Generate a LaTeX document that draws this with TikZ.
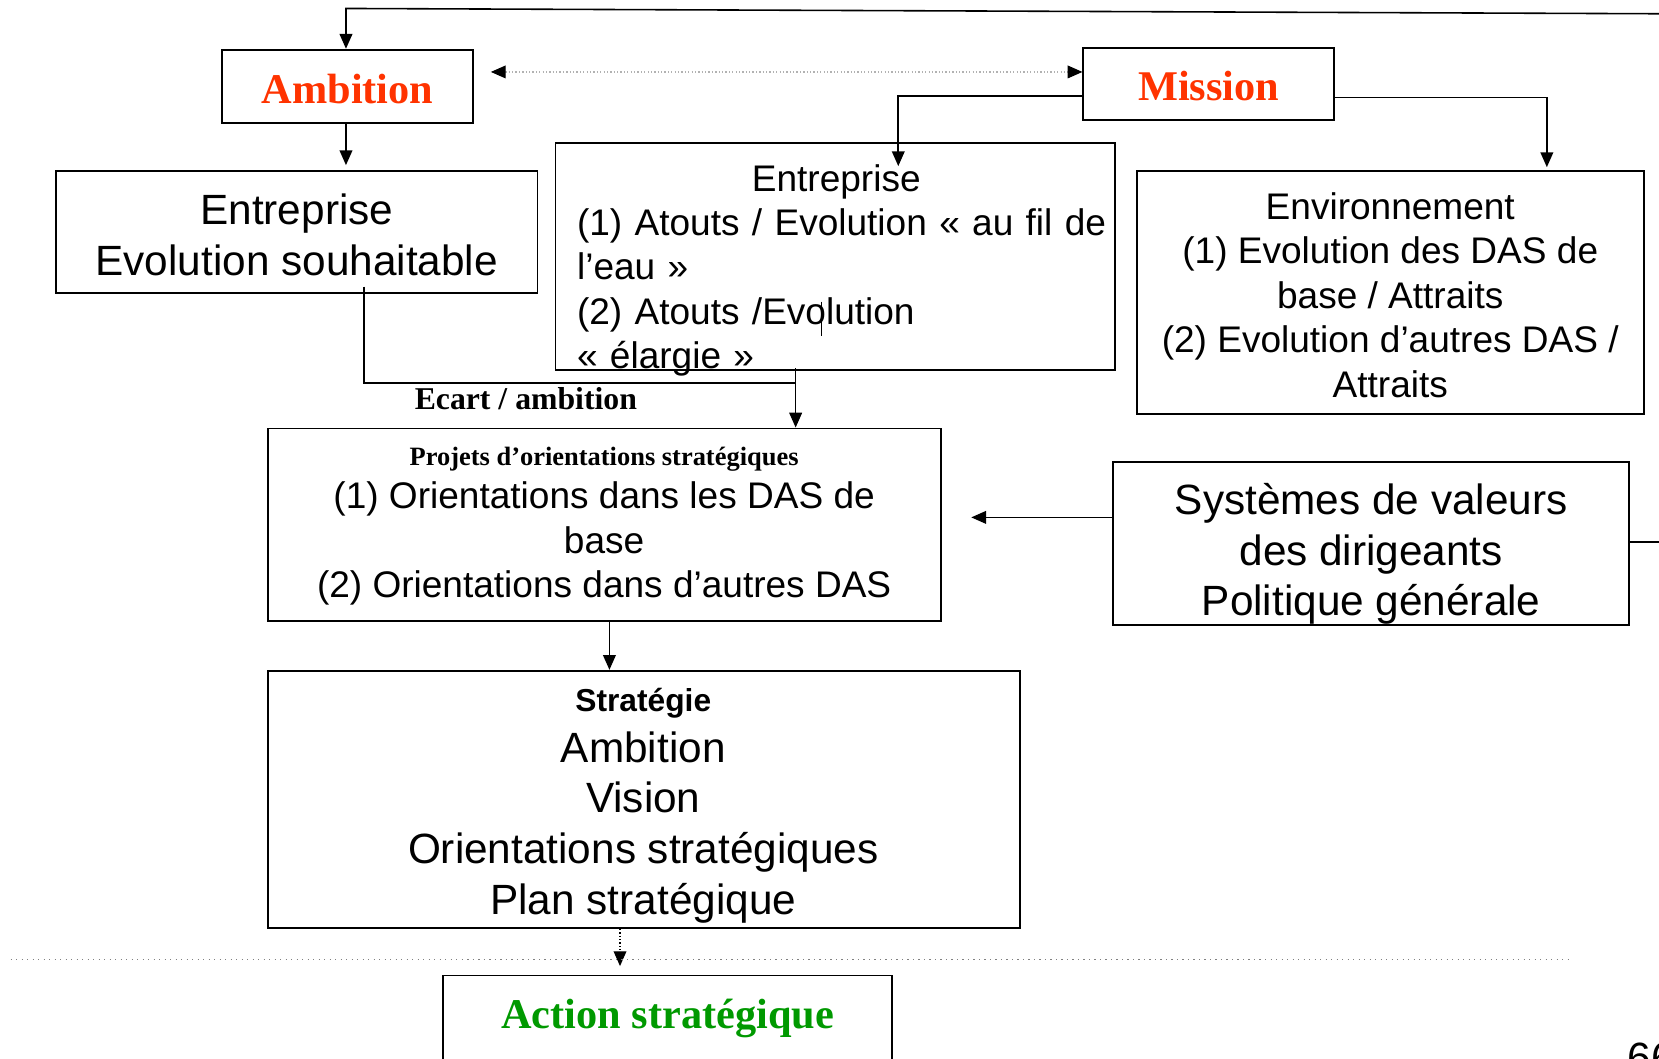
\documentclass[tikz,border=0pt]{standalone}
\usepackage{fontspec}
\setmainfont{Liberation Serif}
\setsansfont{Liberation Sans}
\usetikzlibrary{arrows.meta,calc}
\definecolor{titlered}{RGB}{255,51,0}
\definecolor{actgreen}{RGB}{0,153,0}
\begin{document}
\begin{tikzpicture}[x=0.5pt,y=-0.5pt,
  box/.style={draw,line width=0.9pt,inner sep=0pt},
  txt/.style={inner sep=0pt,align=center},
  sansbig/.style={font=\sffamily\fontsize{20}{24}\selectfont},
  sansmid/.style={font=\sffamily\fontsize{17.5}{21}\selectfont},
  headred/.style={font=\bfseries\fontsize{20}{24}\selectfont,text=titlered},
  arr/.style={-{Triangle[length=7pt,width=6pt]},line width=0.75pt},
  link/.style={line width=0.75pt}]
\useasboundingbox (0,0) rectangle (1568,1000);

% boxes
\node[box,minimum width=118.5pt,minimum height=34.5pt] (amb) at (328.5,81.5) {};
\node[box,minimum width=118.5pt,minimum height=34pt] (mis) at (1142.5,79) {};
\node[box,minimum width=227.5pt,minimum height=57.5pt] (ent1) at (280.5,219.5) {};
\node[box,minimum width=264.5pt,minimum height=107.5pt] (ent2) at (789.5,242.5) {};
\node[box,minimum width=239.5pt,minimum height=114.5pt] (env) at (1314.5,276.5) {};
\node[box,minimum width=318pt,minimum height=91pt] (proj) at (571,496) {};
\node[box,minimum width=244pt,minimum height=77pt] (sys) at (1296,514) {};
\node[box,minimum width=355.5pt,minimum height=121.5pt] (strat) at (608.5,755.5) {};
\node[box,minimum width=212pt,minimum height=59pt] (act) at (631,981) {};

% box texts
\node[txt,headred] (ambt) at (328.5,84) {Ambition};
\node[txt,headred] (mist) at (1142.5,81) {Mission};
\node[txt,sansbig] (ent1t) at (280.5,222) {Entreprise\\Evolution souhaitable};
\node[txt,sansmid,align=left,text width=252pt,anchor=west] (ent2t) at (545,255.5)
  {\makebox[245pt]{Entreprise}\\(1) Atouts / Evolution « au fil de\\l’eau »\\(2) Atouts /Evolution\\« élargie »};
\node[txt,sansmid] (envt) at (1314,279) {Environnement\\(1) Evolution des DAS de\\base / Attraits\\(2) Evolution d’autres DAS /\\Attraits};
\node[txt,font=\bfseries\fontsize{12.5}{15}\selectfont] (projh) at (571,434) {Projets d’orientations stratégiques};
\node[txt,sansmid] (projt) at (571,514) {(1) Orientations dans les DAS de\\base\\(2) Orientations dans d’autres DAS};
\node[txt,sansbig] (syst) at (1296,523.5) {Systèmes de valeurs\\des dirigeants\\Politique générale};
\node[txt,font=\sffamily\bfseries\fontsize{15}{18}\selectfont] (strath) at (608,665) {Stratégie};
\node[txt,sansbig] (stratt) at (608,782) {Ambition\\Vision\\Orientations stratégiques\\Plan stratégique};
\node[txt,font=\bfseries\fontsize{20}{24}\selectfont,text=actgreen] (actt) at (631,963) {Action stratégique};
\node[txt,font=\bfseries\fontsize{15}{18}\selectfont] (ecart) at (497,377) {Ecart / ambition};
\node[txt,sansbig,anchor=west] (page) at (1538,1000) {66};

% stray stroke inside the enterprise box
\draw[line width=0.5pt] (776,285) -- (776,318);

% free ends and entry points
\coordinate (tr) at (1568,13);
\coordinate (tl) at (327,8);
\coordinate (sysr) at (1568,512);
\coordinate (e2in) at (849,157);
\coordinate (envin) at (1462,158);
\coordinate (join) at (752,362);
\coordinate (projin) at (918,489);
\path (amb.east) ++(16,-13.5) coordinate (da);

% connectors
\draw[arr] (tr) -- (tl) -- (tl |- amb.north);
\draw[link] (sys.east |- sysr) -- (sysr);
\draw[gray!60,densely dotted,line width=0.6pt,
      {Triangle[length=7pt,width=6pt,black]}-{Triangle[length=7pt,width=6pt,black]}]
      (da) -- (da -| mis.west);
\draw[arr,shorten >=2.5pt] (tl |- amb.south) -- (tl |- ent1.north);
\draw[arr] ([yshift=-6pt]mis.west) -| (e2in);
\draw[arr] ([yshift=-6.5pt]mis.east) -| (envin);
\draw[link] ([xshift=31.75pt,yshift=3.5pt]ent1.south) |- (join);
\draw[arr] ([yshift=1.5pt]ent2.south -| join) -- (join) -- (join |- proj.north);
\draw[arr] (sys.west |- projin) -- (projin);
\draw[arr] ([xshift=2.5pt]proj.south) -- ([xshift=2.5pt]proj.south |- strat.north);
\draw[densely dotted,line width=0.6pt,-{Triangle[length=7pt,width=6pt]},shorten >=4pt]
      ([xshift=-11.25pt]strat.south) -- ([xshift=-11.25pt]strat.south |- act.north);

% separator
\draw[gray,dotted,line width=0.6pt] (10,907) -- (1485,907);
\end{tikzpicture}
\end{document}
